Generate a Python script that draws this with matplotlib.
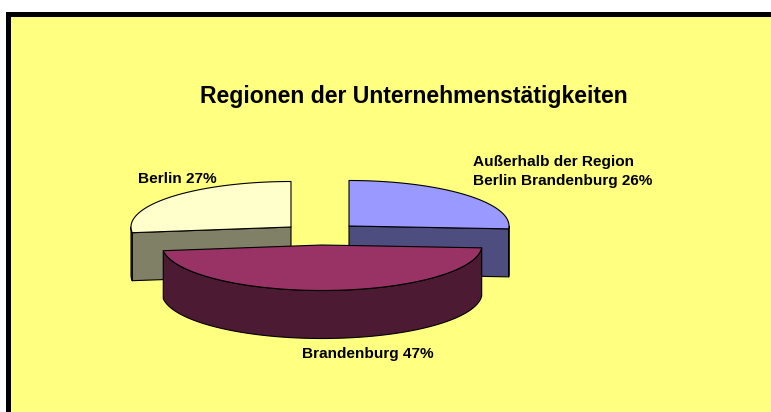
import numpy as np
import matplotlib
matplotlib.use('Agg')
import matplotlib.pyplot as plt
from matplotlib.patches import Polygon, Rectangle

plt.rcParams['font.family'] = ['Liberation Sans', 'DejaVu Sans']

title = 'Regionen der Unternehmenstätigkeiten'
values = [26, 47, 27]
top_colors = ['#9999FF', '#993366', '#FFFFCC']
side_colors = ['#4D4D80', '#4D1A33', '#808066']
# apex of every exploded slice, in pixels
centers = [(349, 226), (322, 245), (291, 227)]
draw_order = [2, 0, 1]

RX, RY = 160, 45.5
DEPTH = 48

fig = plt.figure(figsize=(7.71, 4.12), dpi=100, facecolor='white')
ax = fig.add_axes([0, 0, 1, 1])
ax.set_xlim(0, 771)
ax.set_ylim(412, 0)
ax.axis('off')

# background with the black frame on left and top only
ax.add_patch(Rectangle((6, 12), 765, 400, fc='black', ec='none', zorder=0))
ax.add_patch(Rectangle((11, 17), 760, 395, fc='#FFFF80', ec='none', zorder=1))


def rim(cx, cy, a0, a1):
    # angles clockwise from 12 o'clock
    t = np.radians(np.linspace(a0, a1, 120))
    return np.column_stack([cx + RX * np.sin(t), cy - RY * np.cos(t)])


def draw_slice(i, a0, a1):
    cx, cy = centers[i]
    z = 2 + draw_order.index(i)
    kw = dict(ec='black', lw=0.8, joinstyle='round', zorder=z)
    # radial cut faces that look towards the viewer
    for ang in (a0, a1):
        p = rim(cx, cy, ang, ang)[0]
        t = np.radians(ang)
        if (ang == a1 and np.sin(t) > 0) or (ang == a0 and np.sin(t) < 0):
            ax.add_patch(Polygon([(cx, cy), p, (p[0], p[1] + DEPTH), (cx, cy + DEPTH)],
                                 fc=side_colors[i], **kw))
    # outer wall, only the part on the front half
    lo, hi = max(a0, 90), min(a1, 270)
    if hi > lo:
        arc = rim(cx, cy, lo, hi)
        ax.add_patch(Polygon(np.vstack([arc, (arc + [0, DEPTH])[::-1]]),
                             fc=side_colors[i], **kw))
    # top face
    ax.add_patch(Polygon(np.vstack([[(cx, cy)], rim(cx, cy, a0, a1)]),
                         fc=top_colors[i], **kw))


ends = np.cumsum(values) / sum(values) * 360
starts = np.concatenate([[0], ends[:-1]])
for i in draw_order:
    draw_slice(i, starts[i], ends[i])

ax.text(200.5, 102.7, title, fontsize=16.55, fontweight='bold', va='baseline', zorder=10)
ax.text(138, 182.7, f'Berlin {values[2]}%', fontsize=11.1, fontweight='bold', va='baseline', zorder=10)
ax.text(473, 166, 'Außerhalb der Region', fontsize=11.1, fontweight='bold', va='baseline', zorder=10)
ax.text(473, 185, f'Berlin Brandenburg {values[0]}%', fontsize=11.1, fontweight='bold', va='baseline', zorder=10)
ax.text(302, 357.7, f'Brandenburg {values[1]}%', fontsize=11.1, fontweight='bold', va='baseline', zorder=10)

fig.savefig('out.png', dpi=100)
